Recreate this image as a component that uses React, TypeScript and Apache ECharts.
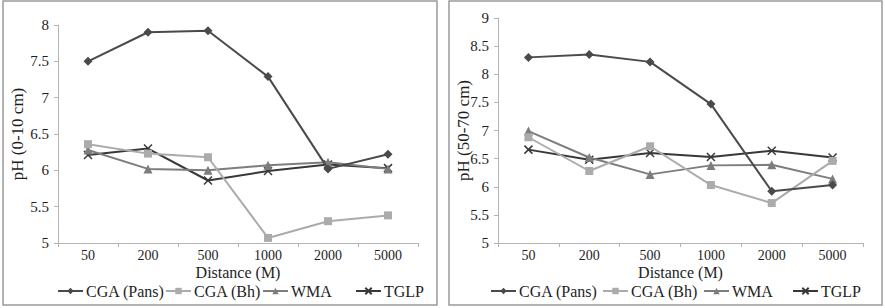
import React, { useEffect, useRef } from "react";
import * as echarts from "echarts";

const categories = ["50", "200", "500", "1000", "2000", "5000"];
const seriesNames = ["CGA (Pans)", "CGA (Bh)", "WMA", "TGLP"];

// Left panel: pH (0-10 cm)
const topPans = [7.5, 7.9, 7.92, 7.29, 6.02, 6.22];
const topBh = [6.36, 6.23, 6.18, 5.07, 5.3, 5.38];
const topWMA = [6.28, 6.02, 6.0, 6.07, 6.11, 6.02];
const topTGLP = [6.21, 6.3, 5.86, 5.99, 6.08, 6.03];

// Right panel: pH (50-70 cm)
const subPans = [8.3, 8.35, 8.22, 7.47, 5.92, 6.03];
const subBh = [6.88, 6.28, 6.72, 6.03, 5.71, 6.46];
const subWMA = [6.99, 6.52, 6.22, 6.38, 6.39, 6.14];
const subTGLP = [6.66, 6.48, 6.6, 6.53, 6.64, 6.52];

const FONT = "'Liberation Serif', 'Times New Roman', serif";
const AXIS_COLOR = "#b4b4b4";
const TEXT = "#1e1e1e";
const colors = ["#4a4a4a", "#ababab", "#7d7d7d", "#383838"];
const symbols = ["diamond", "rect", "triangle", "path://M0,0L10,10M10,0L0,10"];
const symbolSizes = [9, 8, 9, 8];

export default function App() {
  const ref = useRef<HTMLDivElement>(null);
  useEffect(() => {
    if (!ref.current) return;
    const chart = echarts.init(ref.current, null, { renderer: "svg" });

    const mkX = (gridIndex: number) => ({
      type: "category",
      gridIndex,
      data: categories,
      boundaryGap: true,
      name: "Distance (M)",
      nameLocation: "middle",
      nameGap: 21,
      nameMoveOverlap: false,
      nameTextStyle: { fontFamily: FONT, fontSize: 16, color: TEXT },
      axisLine: { lineStyle: { color: AXIS_COLOR, width: 1 } },
      axisTick: { show: true, length: 4, lineStyle: { color: AXIS_COLOR } },
      axisLabel: { fontFamily: FONT, fontSize: 14, color: TEXT, margin: 5 },
      splitLine: { show: false },
    });
    const mkY = (gridIndex: number, min: number, max: number, name: string, gap: number) => ({
      type: "value",
      gridIndex,
      min,
      max,
      interval: 0.5,
      name,
      nameLocation: "middle",
      nameGap: gap,
      nameMoveOverlap: false,
      nameTextStyle: { fontFamily: FONT, fontSize: 17, color: TEXT },
      axisLine: { show: true, lineStyle: { color: AXIS_COLOR, width: 1 } },
      axisTick: { show: true, length: 4, lineStyle: { color: AXIS_COLOR } },
      axisLabel: { fontFamily: FONT, fontSize: 15, color: TEXT, margin: 9 },
      splitLine: { show: false },
    });

    const mkSeries = (data: number[][], axisIndex: number) =>
      data.map((d, i) => ({
        type: "line",
        name: seriesNames[i],
        xAxisIndex: axisIndex,
        yAxisIndex: axisIndex,
        data: d,
        symbol: symbols[i],
        symbolSize: symbolSizes[i],
        showSymbol: true,
        lineStyle: { color: colors[i], width: 2 },
        itemStyle: {
          color: colors[i],
          borderColor: colors[i],
          borderWidth: i === 3 ? 1.5 : 0,
        },
        z: 10 - i,
      }));

    const legendLefts = [
      [57, 165, 262, 355],
      [490, 602, 703, 792],
    ];
    const legends = legendLefts.flatMap((row) =>
      row.map((left, i) => ({
        data: [seriesNames[i]],
        left,
        top: 283,
        itemWidth: 25,
        itemHeight: 8,
        padding: 0,
        textStyle: { fontFamily: FONT, fontSize: 16, color: TEXT, padding: [0, 0, 0, -2] },
      }))
    );

    chart.setOption({
      animation: false,
      backgroundColor: "#ffffff",
      graphic: [
        {
          type: "rect",
          shape: { x: 3, y: 1, width: 434, height: 304 },
          style: { fill: "none", stroke: "#9a9a9a", lineWidth: 1.5 },
          silent: true,
        },
        {
          type: "rect",
          shape: { x: 449, y: 1, width: 433, height: 304 },
          style: { fill: "none", stroke: "#9a9a9a", lineWidth: 1.5 },
          silent: true,
        },
      ],
      grid: [
        { left: 58, right: 467, top: 25, bottom: 65 },
        { left: 498, right: 22, top: 18, bottom: 65 },
      ],
      xAxis: [mkX(0), mkX(1)],
      yAxis: [mkY(0, 5, 8, "pH (0-10 cm)", 32), mkY(1, 5, 9, "pH (50-70 cm)", 26)],
      legend: legends,
      series: [
        ...mkSeries([topPans, topBh, topWMA, topTGLP], 0),
        ...mkSeries([subPans, subBh, subWMA, subTGLP], 1),
      ],
    });
    return () => chart.dispose();
  }, []);
  return (
    <div
      ref={ref}
      style={{ position: "fixed", left: 0, top: 0, width: 885, height: 308 }}
    />
  );
}
